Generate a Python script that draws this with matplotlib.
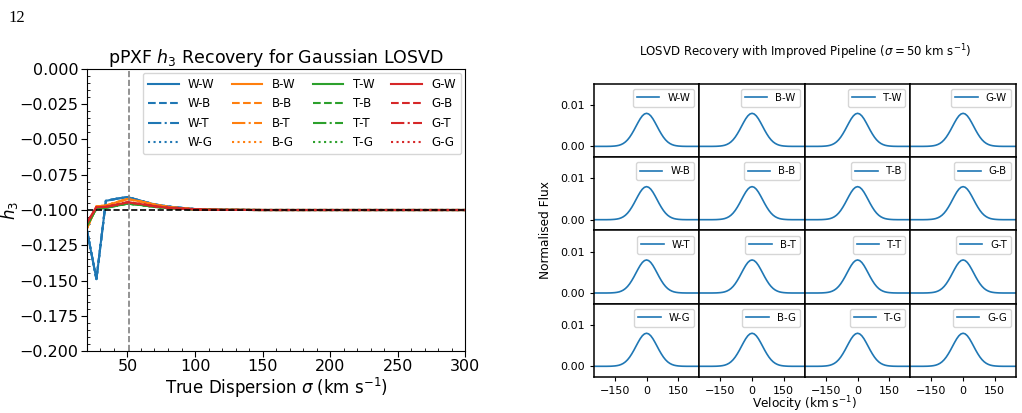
import numpy as np
import matplotlib
matplotlib.use("Agg")
import matplotlib.pyplot as plt
from matplotlib.ticker import AutoMinorLocator

# ---- data for left panel: recovered h3 vs true dispersion ----
templates = ["W", "B", "T", "G"]
colors = ["tab:blue", "tab:orange", "tab:green", "tab:red"]
styles = ["-", "--", "-.", ":"]

sigma = [20, 27, 34, 42, 50, 60, 70, 80, 90, 100, 110, 120, 150, 200, 250, 300]
h3_W = [-0.1145, -0.149, -0.0935, -0.0920, -0.0908, -0.0935, -0.0960, -0.0975, -0.0985,
        -0.0993, -0.0997, -0.0999, -0.1000, -0.1000, -0.1000, -0.1000]
h3_B = [-0.1130, -0.0975, -0.0968, -0.0945, -0.0922, -0.0940, -0.0962, -0.0978, -0.0988,
        -0.0994, -0.0998, -0.0999, -0.1000, -0.1000, -0.1000, -0.1000]
h3_T = [-0.1110, -0.0990, -0.0985, -0.0970, -0.0955, -0.0965, -0.0978, -0.0987, -0.0992,
        -0.0996, -0.0998, -0.0999, -0.1000, -0.1000, -0.1000, -0.1000]
h3_G = [-0.1090, -0.0980, -0.0978, -0.0962, -0.0945, -0.0958, -0.0973, -0.0984, -0.0990,
        -0.0995, -0.0998, -0.0999, -0.1000, -0.1000, -0.1000, -0.1000]
h3_series = [h3_W, h3_B, h3_T, h3_G]
h3_true = -0.1
sigma_line = 51

# ---- data for right panel: recovered LOSVD at sigma = 50 km/s ----
velocity = [-250, -240, -230, -220, -210, -200, -190, -180, -170, -160, -150, -140, -130,
            -120, -110, -100, -90, -80, -70, -60, -50, -40, -30, -20, -10, 0,
            10, 20, 30, 40, 50, 60, 70, 80, 90, 100, 110, 120, 130, 140, 150,
            160, 170, 180, 190, 200, 210, 220, 230, 240, 250]
flux = [0.0, 0.0, 0.0, 0.0, 0.0, 0.0, 0.0, 0.00001, 0.00002, 0.00005, 0.00009, 0.00016,
        0.00027, 0.00045, 0.00071, 0.00108, 0.00158, 0.00222, 0.00300, 0.00388, 0.00484,
        0.00579, 0.00667, 0.00737, 0.00782, 0.00798,
        0.00782, 0.00737, 0.00667, 0.00579, 0.00484, 0.00388, 0.00300, 0.00222, 0.00158,
        0.00108, 0.00071, 0.00045, 0.00027, 0.00016, 0.00009, 0.00005, 0.00002, 0.00001,
        0.0, 0.0, 0.0, 0.0, 0.0, 0.0, 0.0]

fig = plt.figure(figsize=(10.22, 4.13), dpi=100)

fig.text(0.008, 0.975, "12", family="Liberation Serif", fontsize=12, va="top")

# left panel
ax = fig.add_axes([0.0851, 0.150, 0.370, 0.683])
for c, t in enumerate(templates):
    for s, g in enumerate(templates):
        ax.plot(sigma, h3_series[c], color=colors[c], ls=styles[s], lw=1.5,
                label=t + "-" + g)
ax.axhline(h3_true, color="k", ls="--", lw=1.2)
ax.axvline(sigma_line, color="grey", ls="--", lw=1.2)
ax.set_xlim(20, 300)
ax.set_ylim(-0.2, 0.0)
ax.set_yticks(np.arange(-0.2, 0.001, 0.025))
ax.set_xticks([50, 100, 150, 200, 250, 300])
ax.xaxis.set_minor_locator(AutoMinorLocator())
ax.yaxis.set_minor_locator(AutoMinorLocator())
ax.tick_params(which="major", labelsize=11.5, length=4, pad=2)
ax.tick_params(which="minor", direction="in", length=2.5)
ax.set_title("pPXF $h_3$ Recovery for Gaussian LOSVD", fontsize=12.5, pad=4)
ax.set_xlabel("True Dispersion $\\sigma$ (km s$^{-1}$)", fontsize=12, labelpad=1)
ax.set_ylabel("$h_3$", fontsize=12)
ax.yaxis.set_label_coords(-0.178, 0.5)
ax.legend(ncol=4, fontsize=8.5, loc="upper right", handlelength=2.6,
          columnspacing=1.45, labelspacing=0.55, borderaxespad=0.35)

# right panel: 4x4 grid of LOSVDs
gs = fig.add_gridspec(4, 4, left=0.581, right=0.994, top=0.797, bottom=0.087,
                      wspace=0, hspace=0)
for r, t in enumerate(templates):
    for c, g in enumerate(templates):
        a = fig.add_subplot(gs[r, c])
        a.plot(velocity, flux, color="tab:blue", lw=1.2, label=g + "-" + t)
        a.set_xlim(-250, 250)
        a.set_ylim(-0.0026, 0.0151)
        a.set_xticks([-150, 0, 150])
        a.set_yticks([0.0, 0.01])
        a.set_yticklabels(["0.00", "0.01"])
        a.tick_params(labelsize=8, length=3)
        for sp in a.spines.values():
            sp.set_linewidth(1.1)
        if c != 0:
            a.tick_params(left=False, labelleft=False)
        if r != 3:
            a.tick_params(bottom=False, labelbottom=False)
        a.legend(loc="upper right", fontsize=7.3, handlelength=2.2)

fig.text(0.7875, 0.874, "LOSVD Recovery with Improved Pipeline ($\\sigma = 50$ km s$^{-1}$)",
         ha="center", va="center", fontsize=8.5)
fig.text(0.7875, 0.022, "Velocity (km s$^{-1}$)", ha="center", va="center", fontsize=8.7)
fig.text(0.534, 0.442, "Normalised Flux", ha="center", va="center", rotation=90,
         fontsize=8.7)

fig.savefig("out.png", dpi=100)
